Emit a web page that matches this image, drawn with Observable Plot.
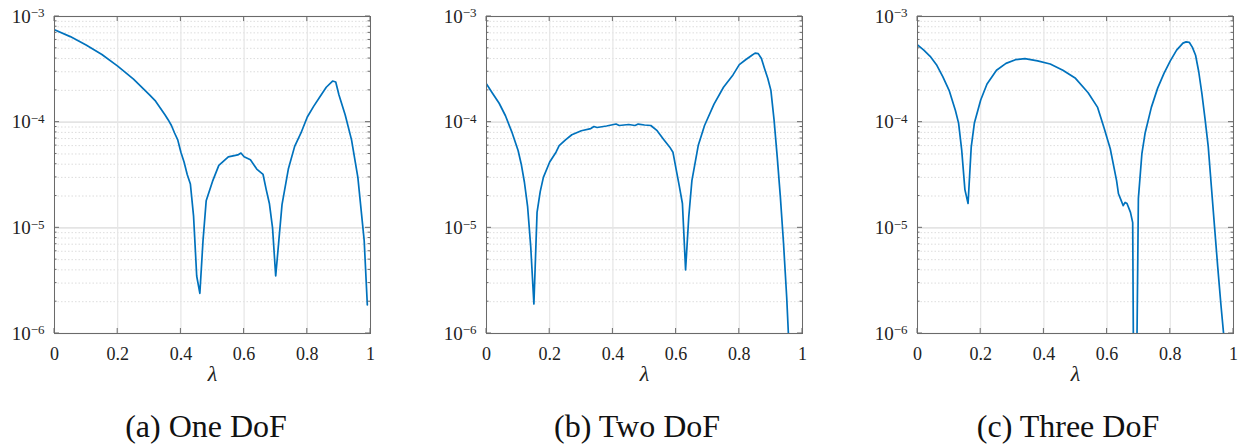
<!DOCTYPE html>
<html><head><meta charset="utf-8">
<script src="https://cdn.jsdelivr.net/npm/d3@7"></script>
<script src="https://cdn.jsdelivr.net/npm/@observablehq/plot@0.6"></script>
<style>
body{margin:0;background:#fff;width:1246px;height:447px;overflow:hidden;position:relative;font-family:"Liberation Serif",serif;}
.panel{position:absolute;top:0;font-family:"Liberation Serif",serif;}
.panel text{font-family:"Liberation Serif",serif;}
.cap{position:absolute;top:408px;font-size:32px;line-height:36px;color:#111;white-space:nowrap;transform:translateX(-50%);font-family:"Liberation Serif",serif;}
</style></head>
<body>
<div id="root"></div>
<script>
// ---- data ----
const xA = [0,0.05,0.1,0.15,0.2,0.25,0.3,0.32,0.35,0.36,0.37,0.38,0.39,0.4,0.41,0.42,0.43,0.44,0.45,0.46,0.47,0.48,0.5,0.52,0.55,0.58,0.59,0.6,0.62,0.64,0.66,0.67,0.68,0.69,0.7,0.71,0.72,0.74,0.76,0.78,0.8,0.82,0.84,0.86,0.88,0.89,0.9,0.92,0.94,0.96,0.98,0.99];
const yA = [7.5e-4,6.45e-4,5.37e-4,4.37e-4,3.39e-4,2.55e-4,1.82e-4,1.58e-4,1.17e-4,1.05e-4,9.3e-5,7.9e-5,6.8e-5,5.2e-5,4.2e-5,3.2e-5,2.6e-5,1.3e-5,3.5e-6,2.4e-6,7.6e-6,1.8e-5,2.75e-5,3.9e-5,4.7e-5,4.9e-5,5.1e-5,4.7e-5,4.4e-5,3.6e-5,3.2e-5,2.3e-5,1.7e-5,1.0e-5,3.5e-6,7.6e-6,1.66e-5,3.6e-5,5.9e-5,7.9e-5,1.12e-4,1.41e-4,1.74e-4,2.14e-4,2.45e-4,2.4e-4,1.82e-4,1.17e-4,6.8e-5,3.0e-5,7.6e-6,1.86e-6];

const xB = [0,0.02,0.04,0.06,0.08,0.1,0.11,0.12,0.13,0.14,0.15,0.16,0.17,0.18,0.2,0.22,0.23,0.25,0.27,0.3,0.33,0.34,0.35,0.38,0.41,0.42,0.45,0.47,0.48,0.5,0.52,0.54,0.56,0.58,0.59,0.6,0.61,0.62,0.63,0.64,0.65,0.67,0.69,0.72,0.75,0.78,0.8,0.82,0.84,0.85,0.86,0.87,0.88,0.89,0.9,0.91,0.92,0.93,0.94,0.95,0.96];
const yB = [2.3e-4,1.86e-4,1.51e-4,1.15e-4,8.1e-5,5.4e-5,4.0e-5,2.7e-5,1.6e-5,6.6e-6,1.9e-6,1.4e-5,2.2e-5,3.0e-5,4.2e-5,5.2e-5,6.0e-5,6.8e-5,7.6e-5,8.3e-5,8.7e-5,9.1e-5,8.9e-5,9.2e-5,9.6e-5,9.3e-5,9.5e-5,9.3e-5,9.6e-5,9.4e-5,9.3e-5,8.3e-5,6.9e-5,5.8e-5,5.2e-5,3.6e-5,2.5e-5,1.7e-5,4.0e-6,1.26e-5,2.8e-5,6.0e-5,9.3e-5,1.48e-4,2.14e-4,2.8e-4,3.5e-4,3.9e-4,4.3e-4,4.5e-4,4.45e-4,4.0e-4,3.2e-4,2.6e-4,2.0e-4,1.05e-4,4.7e-5,1.95e-5,7.1e-6,2.2e-6,5e-7];

const xC = [0,0.02,0.04,0.06,0.08,0.1,0.12,0.13,0.14,0.15,0.16,0.17,0.18,0.2,0.22,0.25,0.28,0.31,0.34,0.38,0.42,0.46,0.5,0.54,0.57,0.59,0.61,0.63,0.636,0.645,0.651,0.657,0.663,0.674,0.681,0.684,0.693,0.699,0.71,0.72,0.74,0.76,0.78,0.8,0.82,0.84,0.85,0.86,0.87,0.88,0.89,0.9,0.91,0.92,0.93,0.94,0.95,0.96,0.97,0.98];
const yC = [5.4e-4,4.8e-4,4.2e-4,3.5e-4,2.7e-4,2.0e-4,1.29e-4,9.8e-5,5.4e-5,2.3e-5,1.7e-5,5.8e-5,9.8e-5,1.62e-4,2.3e-4,3.1e-4,3.6e-4,3.9e-4,4.0e-4,3.8e-4,3.55e-4,3.1e-4,2.6e-4,1.9e-4,1.38e-4,8.9e-5,5.6e-5,2.8e-5,2.1e-5,1.8e-5,1.62e-5,1.74e-5,1.7e-5,1.4e-5,1.12e-5,3e-7,3e-7,1.9e-5,5.0e-5,7.8e-5,1.38e-4,2.1e-4,2.9e-4,3.8e-4,4.8e-4,5.6e-4,5.75e-4,5.7e-4,5.1e-4,4.3e-4,3.0e-4,1.86e-4,1.07e-4,5.9e-5,2.45e-5,1.02e-5,4.3e-6,1.9e-6,9e-7,4e-7];

const xTicks = [0,0.2,0.4,0.6,0.8,1];
const xTickLabels = ["0","0.2","0.4","0.6","0.8","1"];
const yMajor = [1e-6,1e-5,1e-4,1e-3];
const yExponents = ["−6","−5","−4","−3"];
const yMinor = [];
for (const d of [1e-6,1e-5,1e-4]) for (let k = 2; k <= 9; k++) yMinor.push(k*d);
const captions = ["(a) One DoF","(b) Two DoF","(c) Three DoF"];
const xLabel = "λ";

// ---- layout ----
const panels = [
  {xs:xA, ys:yA, left:0,   width:390, cap:captions[0], capX:206},
  {xs:xB, ys:yB, left:432, width:385, cap:captions[1], capX:637},
  {xs:xC, ys:yC, left:863, width:383, cap:captions[2], capX:1068}
];
const ML = 54, MT = 16, MB = 62, H = 395, IW = 316;
const ink = "#6a6a6a";
const FONT = "'Liberation Serif', serif";

function tickMark(index, scales, values, dims) {
  const x = scales.x, y = scales.y;
  const L = dims.marginLeft, R = dims.width - dims.marginRight;
  const T = dims.marginTop, B = dims.height - dims.marginBottom;
  const g = d3.create("svg:g").attr("stroke", ink).attr("stroke-width", 1).attr("fill", "none");
  const seg = (x1,y1,x2,y2) => g.append("line").attr("x1",x1).attr("y1",y1).attr("x2",x2).attr("y2",y2);
  for (const v of yMajor) { const p = y(v); seg(L,p,L+5,p); seg(R-5,p,R,p); }
  for (const v of yMinor) { const p = y(v); seg(L,p,L+2.5,p); seg(R-2.5,p,R,p); }
  for (const v of xTicks) { const p = x(v); seg(p,B,p,B-5); seg(p,T,p,T+5); }
  return g.node();
}

const root = document.getElementById("root");
for (const P of panels) {
  const data = P.xs.map((x,i) => ({x, y: P.ys[i]}));
  const chart = Plot.plot({
    width: P.width, height: H,
    marginLeft: ML, marginRight: P.width - ML - IW, marginTop: MT, marginBottom: MB,
    style: {fontFamily: FONT, fontSize: "18px", color: "#222", background: "transparent", overflow: "visible"},
    x: {domain: [0,1]},
    y: {type: "log", domain: [1e-6, 1e-3]},
    marks: [
      Plot.ruleY(yMinor, {stroke: "#d4d4d4", strokeWidth: 0.8, strokeDasharray: "1.5,2"}),
      Plot.ruleY(yMajor, {stroke: "#e4e4e4", strokeWidth: 1.6}),
      Plot.ruleX(xTicks, {stroke: "#e6e6e6", strokeWidth: 1.2}),
      Plot.line(data, {x: "x", y: "y", stroke: "#0072BD", strokeWidth: 1.7, clip: true}),
      Plot.frame({stroke: ink}),
      tickMark,
      Plot.axisX({ticks: xTicks, tickSize: 0, tickPadding: 14, label: null, fill: "#222", fontSize: 18,
                  tickFormat: d => xTickLabels[xTicks.indexOf(d)]}),
      Plot.axisY({ticks: yMajor, tickSize: 0, tickPadding: 10, label: null, fill: "#222", fontSize: 19,
                  tickFormat: d => "E" + yExponents[yMajor.indexOf(d)]}),
      Plot.text([xLabel], {frameAnchor: "bottom", dy: 47, fontStyle: "italic", fontSize: 22, fill: "#222"})
    ]
  });
  chart.classList.add("panel");
  chart.style.left = P.left + "px";
  chart.style.fontFamily = FONT;
  chart.querySelectorAll("g, text").forEach(n => n.setAttribute("font-family", FONT));
  // render 10^e with a raised exponent
  chart.querySelectorAll("text").forEach(t => {
    const s = t.textContent;
    if (s.startsWith("E")) {
      const e = s.slice(1);
      t.textContent = "10";
      const ts = document.createElementNS("http://www.w3.org/2000/svg", "tspan");
      ts.setAttribute("dy", "-0.4em");
      ts.setAttribute("font-size", "13px");
      ts.textContent = e;
      t.appendChild(ts);
    }
  });
  root.appendChild(chart);
  const cap = document.createElement("div");
  cap.className = "cap";
  cap.style.left = P.capX + "px";
  cap.textContent = P.cap;
  root.appendChild(cap);
}
</script>
</body></html>
